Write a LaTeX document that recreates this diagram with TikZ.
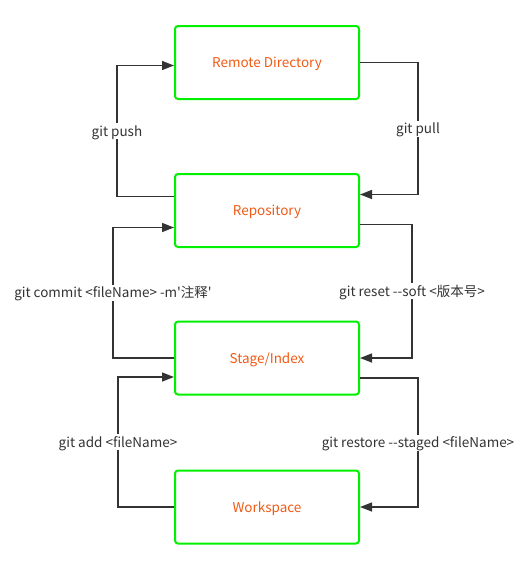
\documentclass[tikz,border=0pt]{standalone}
\usepackage{fontspec}
\newfontfamily\uifont{Noto Sans CJK SC}
\usetikzlibrary{arrows.meta}
\definecolor{boxgreen}{RGB}{0,240,0}
\definecolor{boxorange}{RGB}{240,90,20}
\definecolor{linegray}{RGB}{51,51,51}

\begin{document}
\begin{tikzpicture}[x=1pt,y=-1pt,>={Triangle[length=12pt,width=9pt]},
    area/.style={draw=boxgreen,line width=2pt,rounded corners=3pt,minimum width=184pt,minimum height=73pt,text=boxorange,text height=12pt,text depth=2pt,font=\uifont\fontsize{13.5}{16}\selectfont},
    lbl/.style={fill=white,inner sep=1pt,text=linegray,text height=12pt,text depth=2pt,font=\uifont\fontsize{13.5}{16}\selectfont},
    flow/.style={->,draw=linegray,line width=1.4pt}]
    \useasboundingbox (0,0) rectangle (532,570);

    \node[area] (remote) at (267,62.5) {Remote Directory};
    \node[area] (repo) at (267,210.5) {Repository};
    \node[area] (stage) at (267,358) {Stage/Index};
    \node[area] (work) at (267,507) {Workspace};

    \draw[flow] ([yshift=14pt]repo.west) -- ++(-57,0) |- node[lbl,pos=0.25] {git push} ([yshift=-3pt]remote.west);
    \draw[flow] ([yshift=0pt]remote.east) -- ++(58,0) |- node[lbl,pos=0.25] {git pull} ([yshift=16pt]repo.east);
    \draw[flow] (stage.west) -- ++(-61,0) |- node[lbl,pos=0.25] {git commit <fileName> -m'注释'} ([yshift=-17pt]repo.west);
    \draw[flow] ([yshift=-14pt]repo.east) -- ++(52,0) |- node[lbl,pos=0.25] {git reset --soft <版本号>} (stage.east);
    \draw[flow] (work.west) -- ++(-56,0) |- node[lbl,pos=0.25] {git add <fileName>} ([yshift=-19pt]stage.west);
    \draw[flow] ([yshift=-20pt]stage.east) -- ++(58,0) |- node[lbl,pos=0.25] {git restore --staged <fileName>} (work.east);
\end{tikzpicture}
\end{document}
